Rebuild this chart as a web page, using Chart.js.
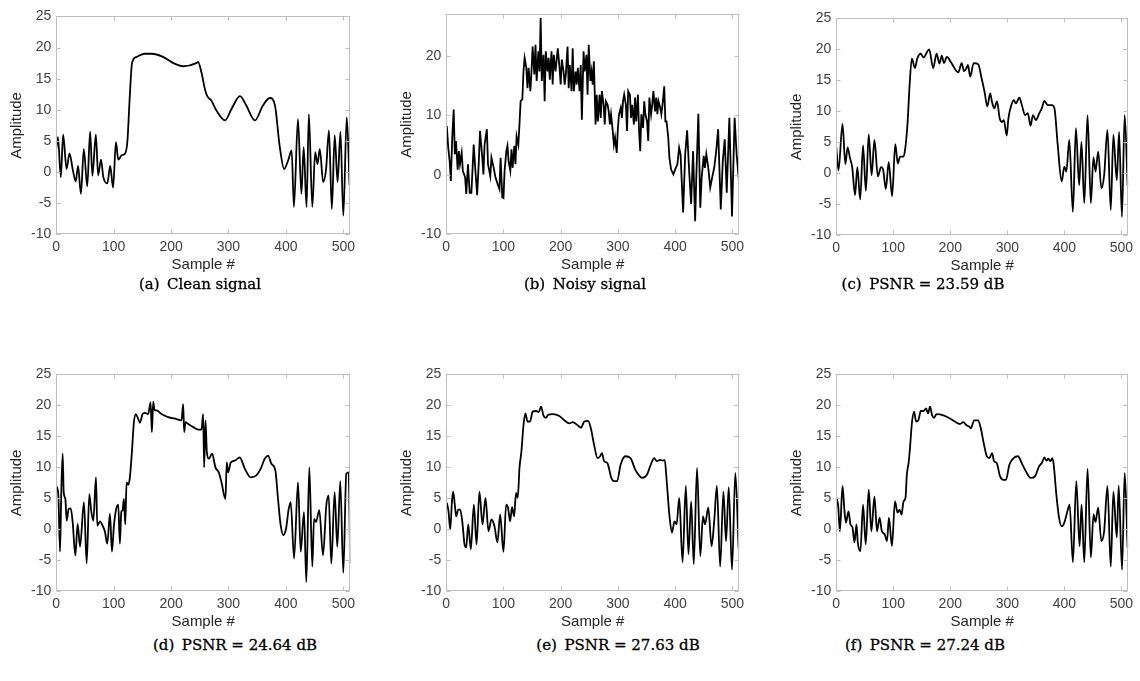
<!DOCTYPE html>
<html>
<head>
<meta charset="utf-8">
<script src="https://cdn.jsdelivr.net/npm/chart.js@4.4.1/dist/chart.umd.min.js"></script>
<style>
  body { margin: 0; background: #fff; width: 1140px; height: 681px; position: relative; overflow: hidden; }
  .panel { position: absolute; }
  .cap { position: absolute; font-family: "DejaVu Serif", serif; font-size: 15px; color: #000;
         -webkit-text-stroke: 0.3px #000; transform: translateX(-50%); white-space: nowrap; }
</style>
</head>
<body>
<script>
// sample index / amplitude pairs
const cleanSignal = [[0,3.7],[3,5.6],[8,-0.8],[12,6],[18,0.5],[23,3],[29,0.3],[34,-1.5],[38,1],[43,-3.5],
  [48,3.7],[54,-2.3],[59,6.5],[63,-0.6],[69,6],[73,-0.5],[78,2],[82,-0.8],[89,-1.8],[94,1],
  [99,-2.5],[104,4.8],[108,2],[114,2.7],[120,3],[124,5],[128,12],[132,17.5],[140,18.5],[154,19],
  [166,19],[186,18.5],[204,17.5],[221,17],[244,17.5],[247,17.7],[253,16],[259,13.3],[263,12.2],[270,11.5],
  [279,9.9],[294,8.3],[305,10.1],[320,12.2],[331,10.7],[346,8.3],[360,10.7],[372,11.9],[381,10.7],[389,4.3],
  [397,0.5],[404,1.9],[410,3.5],[414,-5.6],[421,8.5],[427,-3.5],[431,4],[436,-5.6],[440,9.3],[446,-5.6],
  [451,3.2],[455,1.3],[459,3.7],[465,-1.6],[470,0.5],[475,6.7],[480,-5.9],[485,5.9],[490,-1.6],[495,6.5],
  [500,-7],[506,8.8],[511,-2.1]];

const noisySignal = [[1,8.2],[3.5,4.6],[6,2.3],[8,-1],[10.5,6.3],[13,11],[15,3.5],[17,5.7],[20,0.9],[22,4],
  [24,1.8],[27,3.7],[29,0.7],[33,-0.4],[35,-3.2],[38,1.8],[41,-3],[44,-3],[48,5.1],[51,0.7],
  [54,-3.4],[57,2.3],[59,7.4],[63,2.9],[65,0.1],[67,5.1],[71,7.7],[73,1.8],[77,-0.2],[79,2.9],
  [83,1.2],[86,-0.4],[90,-1.6],[93,-2.4],[95,2.9],[98,-3.8],[100,-3.9],[102,0.7],[105,4],[107,4.9],
  [109,2.3],[112,0.7],[114,4.3],[116,1.2],[119,4.9],[121,1.8],[123,6.5],[126,5.1],[128,8.5],[130,12.4],
  [133,12.7],[135,17.4],[137,19.7],[140,18],[142,14.6],[144,18],[147,14.1],[149,17.4],[151,21.6],[154,16.9],
  [156,21.9],[158,15.8],[161,20.8],[163,17.4],[165,26.4],[167,15.8],[170,20.2],[172,12.4],[174,20.8],[177,17.4],
  [179,19.7],[181,16],[184,20.8],[186,15.2],[188,20.2],[191,17.4],[193,19.4],[195,21.3],[198,18],[200,15.2],
  [202,19.4],[205,17.4],[207,15.2],[209,16.9],[212,21.6],[214,14.6],[216,18.5],[219,14.1],[221,21.3],[223,14.1],
  [226,17.4],[228,15.2],[230,18],[233,14.1],[235,18.5],[237,9.3],[240,20.8],[242,17.4],[245,20.2],[247,13.5],
  [249,21.9],[252,15.8],[254,17.4],[256,15.2],[258,19.1],[261,8.5],[263,13.5],[265,9],[268,13.5],[270,9.6],
  [272,14.1],[275,11.8],[277,8.5],[279,12.4],[282,11.8],[284,10.7],[286,8.5],[288,10.2],[291,7.4],[293,5.1],
  [295,6.3],[298,3.7],[300,7.9],[302,10.2],[305,11.3],[307,9.6],[309,12.4],[311,13.5],[314,11.8],[316,7.4],
  [318,14.1],[321,13.5],[323,9.6],[325,11.8],[328,8.5],[330,13],[332,9],[335,13.5],[337,7.4],[339,4],
  [341,10.2],[344,7.9],[346,12.4],[348,10.2],[351,9],[353,5.7],[355,13],[358,10.2],[360,11.8],[362,14.1],
  [365,10.7],[367,13],[369,10.2],[371,12.4],[374,11.3],[376,10.2],[378,11.8],[381,14.9],[383,9],[385,9],
  [388,6.3],[390,2.9],[393,0.9],[397,0.1],[400,0.9],[404,1.8],[407,4.6],[409.5,3.5],[414,-6.3],[417.6,3.5],
  [421,7.5],[424.5,0.7],[428,-4.9],[431.4,4],[435,-7.8],[437,-0.4],[440.6,10.3],[444,-5.5],[446.4,-0.4],[450,3.2],
  [452,1.2],[454.5,3.5],[458,1.2],[461.4,-2.1],[464.8,-0.4],[468.3,1.2],[471.8,4],[475.2,7.7],[479.8,-5.8],[483.3,2.3],
  [486.7,6],[490.2,-3],[494.8,9.6],[499.4,-7],[504,9.6],[507.5,3.5],[511,-0.4]];

const denoisedC = [[0,4.3],[4,0.5],[11,8],[16,1.5],[20,4.2],[24,2.5],[28,1],[33,-3.5],[37,1],[42,-4.2],
  [47,4.5],[52,-2.8],[57,6.3],[62,-0.3],[67,5.4],[73,-0.5],[78.5,1],[82,0.7],[87,-2.5],[92,1.8],
  [98,-3.7],[103.5,4.7],[108,1.6],[112,2.7],[118,2.7],[121,4],[125,8],[128.5,14],[132.6,18.5],[138,17],
  [142,18.5],[148,19.3],[153,18.7],[163,20],[170,17],[176,19.3],[181,17.7],[185,19],[189,17.8],[194,18.8],
  [202,17.8],[214,16.3],[220,17.8],[224,16.5],[228.5,17],[231,17.5],[235,15.6],[241,17.8],[249,17.6],[255,15.3],
  [260,13.2],[265,10.8],[270,12.9],[273,11.6],[277,10.5],[282,11.6],[286.6,8.9],[290.7,8.3],[294,8.6],[299,6.1],
  [302,8.9],[307,11],[311.6,11.8],[315,11.3],[321,12.2],[325.6,11],[331,9.4],[336,9.7],[340.7,7.7],[345,9.4],
  [350,8.6],[356,9.7],[360.5,10.5],[365,11.7],[371,11],[378,11],[382.6,10.5],[388.4,4.6],[395.3,-1.3],[400,1.1],
  [403.5,0.3],[408.7,5.4],[415,-6.2],[420.3,7.3],[426,-1.9],[430,5.1],[435,-4.8],[440.7,9.4],[446.5,-4.8],[451,2.6],
  [454.7,0.3],[459.3,3.5],[465,-2.4],[469.8,-0.3],[475.6,7],[481.4,-5.9],[486,6.2],[492,-1.1],[496,6.7],[501,-7],
  [505.8,9.4],[511,-2]];

const denoisedD = [[0,7],[3.7,5.5],[6.6,-3.6],[8.9,6.5],[11.2,12.2],[13,6],[15.9,4.9],[18.2,1.4],[21.7,3.3],[25.2,3.4],
  [28.6,1.2],[33.3,-4.2],[37.3,0.9],[41.4,-2.8],[48.3,4.4],[53,-5.5],[57.6,5.7],[61.2,2.8],[64.6,1.4],[69.2,8.4],
  [71.5,0.6],[76.2,1.3],[80.8,0.6],[84.9,-0.4],[88.9,-2.3],[93.6,2.5],[97,-3.6],[100.5,0.6],[104,3.1],[108,4],
  [110.9,-2.3],[113.3,2.8],[115.6,3.1],[117.9,4.9],[120.2,0.8],[122.5,7.6],[125.4,7.2],[128.3,8.4],[131.8,12.5],[135.3,17.3],
  [138.8,18.6],[142.8,17.8],[145.7,17.2],[150.4,18.6],[154.4,18.8],[160.2,18.6],[164.3,20.5],[166.6,15.7],[168.9,20.6],[171.3,19.2],
  [174.7,19.2],[183.4,18.6],[195,18.1],[209.5,17.8],[218.2,17.6],[221.1,20.2],[222.8,15.7],[225.2,17.3],[229.8,17],[238.5,16.5],
  [247.2,16.1],[253,16.1],[255.9,18.6],[257.6,10],[260,17.6],[262.3,12.5],[265.7,11.4],[271.5,12.2],[277.3,10],[283.1,9.2],
  [287.8,7.6],[294.7,4.9],[297,10.8],[299.4,9.2],[304,10.8],[311,11.1],[319.7,11.6],[328.4,9.8],[338.8,8.4],[348.6,8.7],
  [356.2,9.8],[363.1,11.4],[368.9,11.9],[374.7,10.6],[381.7,9.5],[386.3,4.9],[391,0.6],[395.6,-0.9],[400.2,0.1],[404.9,3.3],
  [408.4,4.4],[414.2,-4.7],[421.1,7.6],[425.8,-3.6],[431.5,2.8],[435.6,-8.5],[440.8,10],[446,-6],[449,1.7],[452.4,1.2],
  [458.2,3.1],[464.6,-4.2],[470.4,3.9],[474.4,5.5],[479.1,-5.5],[484.9,6],[489.5,-2.8],[494.7,7.8],[500,-7],[505.2,9],
  [509.2,9.2],[512,-5.5]];

const denoisedE = [[1,4.3],[4,2.9],[7,0],[10,4.5],[12,6.1],[15,4],[17.4,2.1],[21,3.2],[24.4,3.2],[28,1.3],
  [32,-2.4],[35,-2.9],[38.4,0.8],[43,-3.2],[48.3,4],[53,-2.4],[58,6.1],[63.4,0.8],[68.6,5.1],[73.8,-0.3],
  [79,1.6],[84.3,0.5],[89.5,-2.1],[94.2,2.4],[100,-3.6],[104.7,4],[108,3.5],[111.6,1.3],[115,3.6],[118.6,2.1],
  [122,5.9],[125,5.1],[128,9.9],[131.4,12.6],[135,16.8],[138.4,18.7],[142,17.4],[146.5,17.4],[151,19],[157,19.1],
  [161.6,18.9],[165.7,19.8],[169.8,18.4],[174.4,18],[177.3,18.4],[186,18.6],[197.7,18.3],[206.4,17.6],[215,17.1],[221,17.3],
  [229.7,16.8],[235.5,16.4],[241.3,17.4],[248,17.5],[252.7,16.3],[258.5,13.6],[264.3,11.5],[268.9,11.8],[272.3,12.3],[275.8,11],
  [281.6,10.7],[288.5,8.3],[293,7.8],[298.8,7.8],[304.6,10.4],[313.3,11.8],[322,11.5],[330.5,9.6],[336.3,8.8],[342,8.3],
  [350.7,8.8],[356.5,10.2],[363.4,11.5],[368,11],[373.8,11.2],[378.4,11.1],[381.8,11.2],[385.3,7.8],[389.9,2.4],[394.5,-0.5],
  [399,1.3],[402.6,0.8],[407.2,5.1],[413,-5.3],[418.7,7],[423.3,-4],[428,4.5],[432.6,-5.6],[438.3,9.9],[444,-4.3],
  [448.7,2.1],[452.2,0.8],[458,3.5],[463.7,-2.7],[468.3,1.3],[473,7],[478.7,-6],[484.4,6.1],[489,-1.9],[493.7,6.8],
  [499.4,-6.5],[505.2,9.1],[511,-3]];

const denoisedF = [[0.6,5.1],[3.5,3.7],[6.4,-0.3],[11,7],[14.5,2.9],[17,1.1],[21.5,2.9],[25,0.8],[28.5,0.3],[32,-2.1],
  [35.5,0.8],[37.8,-2.1],[42.4,-3.5],[47,4],[51.7,-2.4],[57,6.4],[61.6,-0.3],[67,5.3],[71.5,-0.3],[76,1.9],
  [80,-0.3],[85,-0.8],[89,-1.9],[92.4,1.9],[97.7,-2.7],[103,4.5],[107.6,2.7],[111,3.2],[114.5,2.4],[118,4.5],
  [121.5,5.1],[123.8,8.8],[127.3,11],[129.7,13.6],[133,17.4],[136.6,19],[140,17.4],[144,17.6],[148.3,19.1],[153,19.1],
  [157.6,19.5],[161,18.7],[164.5,19.8],[168,18.4],[171.5,18],[176,18.6],[188,18.4],[199.4,17.9],[208,17.4],[217,17],
  [222.7,17.3],[228.5,16.8],[233,16.6],[236,16.3],[242,17.6],[248.8,17.6],[253.5,16.3],[259.3,13.6],[264,11.8],[268.6,11.5],
  [273.3,12.3],[276.7,11],[281.4,10.7],[287.2,8.6],[293,8],[297.7,8],[303.5,10.4],[311,11.5],[318.6,11.8],[326.7,10.4],
  [334.3,9.1],[340.7,8.3],[348.8,8.6],[355.8,10.2],[360.5,10.7],[365,11.6],[368.6,11.1],[372,11.4],[375.6,11],[379,11.5],
  [381.4,10.4],[386,5.6],[390.7,1.9],[395.3,0.5],[400,1.1],[404.7,2.7],[409.3,4],[415,-5.3],[421,7.8],[426.7,-2.7],
  [430.2,4],[435,-5.3],[440.7,9.8],[446.5,-4.5],[451.2,2.4],[454.7,1.2],[459.3,3.5],[465,-1.9],[469.8,-0.3],[475.6,7],
  [481.4,-6],[486,6.1],[492,-1.3],[495.3,7.1],[501.2,-6.5],[505.8,9.1],[511,-3]];

const captions = ['(a)\u2002Clean signal', '(b)\u2002Noisy signal', '(c)\u2002PSNR = 23.59 dB',
                  '(d)\u2002PSNR = 24.64 dB', '(e)\u2002PSNR = 27.63 dB', '(f)\u2002PSNR = 27.24 dB'];
const xTicks = [0, 100, 200, 300, 400, 500];

// plot-area rectangles in page pixels + caption centre
const panels = [
  { data: cleanSignal, yMax: 25, yStep: 5, smooth: true,  l: 56,  t: 16,  r: 350,  b: 234, cx: 200, cy: 285 },
  { data: noisySignal, yMax: 27, yStep: 10, smooth: false, l: 446, t: 14,  r: 739,  b: 234, cx: 585, cy: 285 },
  { data: denoisedC,   yMax: 25, yStep: 5, smooth: true,  l: 836, t: 18,  r: 1128, b: 235, cx: 923, cy: 285 },
  { data: denoisedD,   yMax: 25, yStep: 5, smooth: true,  l: 56,  t: 374, r: 350,  b: 591, cx: 235, cy: 646 },
  { data: denoisedE,   yMax: 25, yStep: 5, smooth: true,  l: 446, t: 374, r: 739,  b: 591, cx: 618, cy: 646 },
  { data: denoisedF,   yMax: 25, yStep: 5, smooth: true,  l: 836, t: 374, r: 1128, b: 591, cx: 925, cy: 646 }
];

// MATLAB-like box with inward ticks on all four sides
const boxTicks = {
  id: 'boxTicks',
  afterDraw(chart) {
    const { ctx, chartArea: a, scales: { x, y } } = chart;
    ctx.save();
    ctx.strokeStyle = '#bfbfbf';
    ctx.lineWidth = 1;
    const L = Math.round(a.left) + 0.5, R = Math.round(a.right) - 0.5;
    const T = Math.round(a.top) + 0.5, B = Math.round(a.bottom) - 0.5;
    ctx.strokeRect(L, T, R - L, B - T);
    ctx.beginPath();
    x.ticks.forEach(t => {
      const px = Math.round(x.getPixelForValue(t.value)) + 0.5;
      ctx.moveTo(px, B); ctx.lineTo(px, B - 4);
      ctx.moveTo(px, T); ctx.lineTo(px, T + 4);
    });
    y.ticks.forEach(t => {
      const py = Math.round(y.getPixelForValue(t.value)) + 0.5;
      ctx.moveTo(L, py); ctx.lineTo(L + 4, py);
      ctx.moveTo(R, py); ctx.lineTo(R - 4, py);
    });
    ctx.stroke();
    ctx.restore();
  }
};

const tickFont = { family: '"Liberation Sans", Arial, sans-serif', size: 14 };
const titleFont = { family: '"Liberation Sans", Arial, sans-serif', size: 15 };

panels.forEach((p, i) => {
  const wrap = document.createElement('div');
  wrap.className = 'panel';
  const canvas = document.createElement('canvas');
  canvas.width = (p.r - p.l) + 70;
  canvas.height = (p.b - p.t) + 60;
  wrap.appendChild(canvas);
  document.body.appendChild(wrap);

  const chart = new Chart(canvas, {
    type: 'line',
    data: {
      datasets: [{
        data: p.data.map(d => ({ x: d[0], y: d[1] })),
        borderColor: '#000',
        borderWidth: 1.8,
        pointRadius: 0,
        fill: false,
        tension: p.smooth ? 0.4 : 0,
        cubicInterpolationMode: p.smooth ? 'monotone' : 'default'
      }]
    },
    options: {
      responsive: false,
      maintainAspectRatio: false,
      animation: false,
      devicePixelRatio: 1,
      layout: { padding: { top: 8, right: 16, left: 2, bottom: 2 } },
      plugins: { legend: { display: false }, tooltip: { enabled: false } },
      scales: {
        x: {
          type: 'linear', min: 0, max: 512,
          grid: { display: false, drawTicks: false }, border: { display: false },
          afterBuildTicks: s => { s.ticks = xTicks.map(v => ({ value: v })); },
          ticks: { color: '#404040', font: tickFont, padding: 4, maxRotation: 0 },
          title: { display: true, text: 'Sample #', color: '#262626', font: titleFont, padding: { top: -3, bottom: 0 } }
        },
        y: {
          min: -10, max: p.yMax,
          grid: { display: false, drawTicks: false }, border: { display: false },
          ticks: { stepSize: p.yStep, color: '#404040', font: tickFont, padding: 5, includeBounds: false },
          title: { display: true, text: 'Amplitude', color: '#262626', font: titleFont, padding: { top: 0, bottom: 0 } }
        }
      }
    },
    plugins: [boxTicks]
  });

  // size the canvas so the plot area matches the figure, then place it
  const a = chart.chartArea;
  const w = canvas.width + ((p.r - p.l) - (a.right - a.left));
  const h = canvas.height + ((p.b - p.t) - (a.bottom - a.top));
  chart.resize(w, h);
  const a2 = chart.chartArea;
  wrap.style.left = (p.l - a2.left) + 'px';
  wrap.style.top = (p.t - a2.top) + 'px';

  const cap = document.createElement('div');
  cap.className = 'cap';
  cap.textContent = captions[i];
  cap.style.left = p.cx + 'px';
  cap.style.top = (p.cy - 10) + 'px';
  document.body.appendChild(cap);
});
</script>
</body>
</html>
